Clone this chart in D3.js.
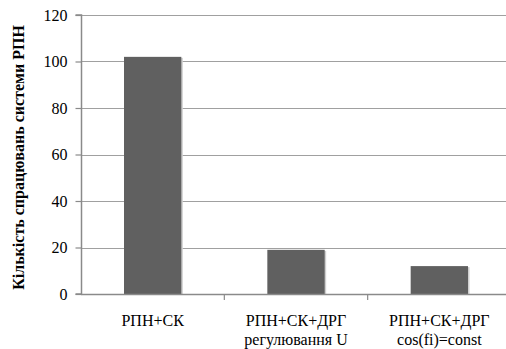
<!DOCTYPE html>
<html><head><meta charset="utf-8">
<script src="https://cdn.jsdelivr.net/npm/d3@7/dist/d3.min.js"></script>
<style>body{margin:0;background:#fff}svg{display:block}
svg text, svg tspan{font-family:"Liberation Serif","Times New Roman",serif !important}</style>
</head><body>
<svg id="c" width="506" height="349" font-family="Liberation Serif"></svg>
<script>
const categories = [["РПН+СК"], ["РПН+СК+ДРГ", "регулювання U"], ["РПН+СК+ДРГ", "cos(fi)=const"]];
const values = [102, 19, 12];
const yTicks = [0, 20, 40, 60, 80, 100, 120];
const yTitle = "Кількість спрацювань системи РПН";

const svg = d3.select("#c");
const mLeft = 81, mRight = 511, mTop = 15, mBottom = 294;
const x = d3.scaleBand().domain(d3.range(categories.length)).range([mLeft, mRight]);
const y = d3.scaleLinear().domain([0, 120]).range([mBottom, mTop]);
const fontFam = '"Liberation Serif", "Times New Roman", serif';

// gridlines
svg.append("g").selectAll("line").data(yTicks.filter(d => d > 0)).join("line")
  .attr("x1", mLeft).attr("x2", mRight).attr("y1", d => Math.round(y(d)) + 0.5).attr("y2", d => Math.round(y(d)) + 0.5)
  .attr("stroke", "#a0a0a0").attr("stroke-width", 1.2);

// bars
const bw = x.bandwidth() * 0.4;
const bars = svg.append("g");
bars.selectAll("rect.s").data(values).join("rect").attr("class", "s")
  .attr("x", (d, i) => x(i) + x.bandwidth() / 2 - bw / 2 + 1.5).attr("y", d => y(d) + 1)
  .attr("width", bw).attr("height", d => mBottom - y(d) - 1).attr("fill", "#cfcfcf");
bars.selectAll("rect.b").data(values).join("rect").attr("class", "b")
  .attr("x", (d, i) => x(i) + x.bandwidth() / 2 - bw / 2).attr("y", d => y(d))
  .attr("width", bw).attr("height", d => mBottom - y(d)).attr("fill", "#606060");

// y axis
const ya = svg.append("g").attr("transform", `translate(${mLeft + 0.5},0)`)
  .call(d3.axisLeft(y).tickValues(yTicks).tickSize(6).tickPadding(8).tickFormat(d3.format("d")));
ya.attr("font-family", "Liberation Serif");
ya.select(".domain").attr("stroke", "#8a8a8a").attr("stroke-width", 1.5).attr("d", `M-6,${mTop}H0V${mBottom}H-6`);
ya.selectAll(".tick line").attr("stroke", "#8a8a8a").attr("stroke-width", 1.2);
ya.selectAll(".tick text").style("font-family", fontFam, "important").attr("font-size", 16).attr("fill", "#000");

// x axis
const xa = svg.append("g").attr("transform", `translate(0,${mBottom + 0.5})`)
  .call(d3.axisBottom(x).tickSize(0).tickFormat(""));
xa.select(".domain").attr("stroke", "#8a8a8a").attr("stroke-width", 1.5).attr("d", `M${mLeft},0H${mRight}`);
xa.selectAll(".tick").remove();
svg.append("g").selectAll("line").data(d3.range(1, categories.length)).join("line")
  .attr("x1", i => x(i)).attr("x2", i => x(i)).attr("y1", mBottom).attr("y2", mBottom + 6)
  .attr("stroke", "#8a8a8a").attr("stroke-width", 1.2);

// category labels
const lab = svg.append("g").selectAll("text").data(categories).join("text")
  .attr("x", (d, i) => x(i) + x.bandwidth() / 2).attr("y", 326)
  .attr("text-anchor", "middle").style("font-family", fontFam, "important").attr("font-size", 16).attr("fill", "#000");
lab.selectAll("tspan").data(d => d).join("tspan")
  .attr("x", function () { return this.parentNode.getAttribute("x"); })
  .style("font-family", fontFam, "important")
  .attr("dy", (d, i) => i === 0 ? 0 : 19).text(d => d);

// y title
svg.append("text").attr("transform", `translate(24,${(27 + 288) / 2}) rotate(-90)`)
  .attr("text-anchor", "middle").style("font-family", fontFam, "important").attr("font-weight", "bold")
  .attr("font-size", 16).attr("fill", "#000").text(yTitle);
</script>
</body></html>
